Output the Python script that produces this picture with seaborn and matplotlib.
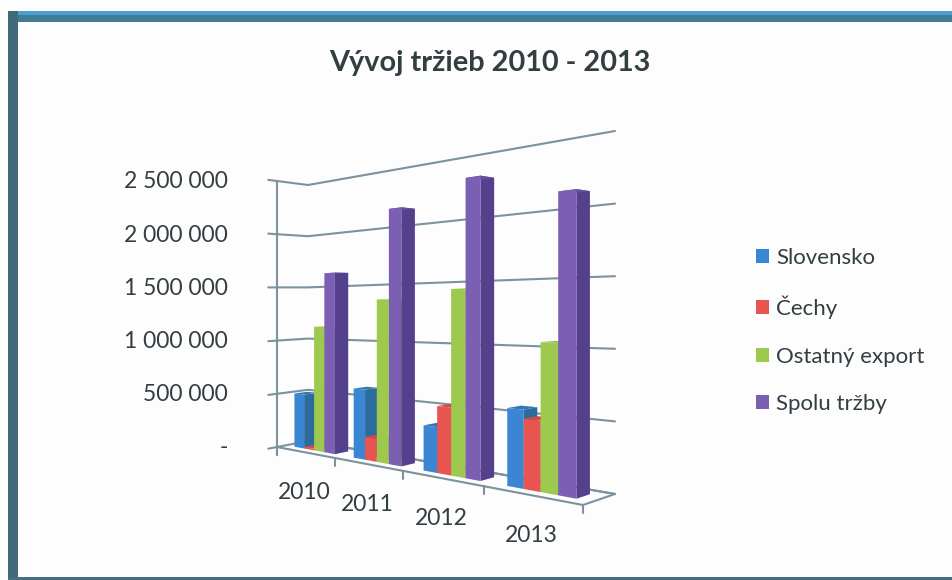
import numpy as np
import pandas as pd
import seaborn as sns
import matplotlib
matplotlib.use("Agg")
import matplotlib.pyplot as plt
from matplotlib.patches import Polygon, Rectangle
from matplotlib.lines import Line2D
from matplotlib.transforms import Transform, Affine2D

# ---- data ----
years = ["2010", "2011", "2012", "2013"]
slovensko = [500000, 600000, 360000, 565000]
cechy = [15000, 195000, 525000, 500000]
ostatny = [1130000, 1370000, 1440000, 1050000]
spolu = [1615000, 2120000, 2280000, 2090000]
series_names = ["Slovensko", "Čechy", "Ostatný export", "Spolu tržby"]
front_colors = ["#3a86d2", "#e8544f", "#9dc94f", "#7a5fb2"]
side_colors = ["#2b6c9c", "#c4433f", "#7ea63c", "#54408c"]
top_colors = ["#2f78b8", "#d24a45", "#8cb646", "#64509c"]
value_ticks = [0, 500000, 1000000, 1500000, 2000000, 2500000]
value_labels = ["-", "500 000", "1 000 000", "1 500 000", "2 000 000", "2 500 000"]
title_text = "Vývoj tržieb 2010 - 2013"

W, H = 953, 580
GRID = "#7c929d"
INK = "#333e41"
VMAX = value_ticks[-1]
U0, U1 = -0.5, len(years) - 0.5
BAR_D0, BAR_D1 = 0.3, 0.72


def homography(corners):
    """Plane (category, value) -> picture pixels, from four corner pixels."""
    src = [(U0, 0.0), (U1, 0.0), (U0, 1.0), (U1, 1.0)]
    A, b = [], []
    for (u, v), (x, y) in zip(src, corners):
        A.append([u, v, 1, 0, 0, 0, -u * x, -v * x])
        A.append([0, 0, 0, u, v, 1, -u * y, -v * y])
        b += [x, y]
    return np.append(np.linalg.solve(np.array(A), np.array(b)), 1.0).reshape(3, 3)


FRONT = homography([(277, 447), (583, 505), (277, 181), (583, 123)])
BACK = homography([(308, 441), (615, 494), (308, 185), (615, 131)])


def project(u, v, d):
    p = np.array([u, v / VMAX, 1.0])
    f = FRONT @ p
    b = BACK @ p
    return (1 - d) * f[:2] / f[2] + d * b[:2] / b[2]


class PlaneTransform(Transform):
    """Data (category, value) at a given plane depth -> display."""
    input_dims = 2
    output_dims = 2
    is_separable = False
    has_inverse = False

    def __init__(self, plane_depth):
        super().__init__()
        self.plane_depth = plane_depth

    def transform_non_affine(self, values):
        pts = np.array([project(a, b, self.plane_depth) for a, b in np.asarray(values)])
        pts[:, 1] = H - pts[:, 1]
        return pts


px = Affine2D().scale(1, -1).translate(0, H)

sns.set_theme(style="white")
plt.rcParams["font.family"] = ["Lato", "DejaVu Sans"]

fig = plt.figure(figsize=(W / 100, H / 100), dpi=100, facecolor="#fdfdfe")
ax = fig.add_axes([0, 0, 1, 1])

df = pd.DataFrame({
    "rok": years * 4,
    "serie": np.repeat(series_names, 4),
    "hodnota": slovensko + cechy + ostatny + spolu,
})
sns.barplot(data=df, x="rok", y="hodnota", hue="serie", order=years,
            hue_order=series_names, palette=front_colors, width=0.7,
            saturation=1, gap=0, errorbar=None, ax=ax, linewidth=0)
ax.set_xlim(U0, U1)
ax.set_ylim(0, VMAX)
ax.set_autoscale_on(False)

sns.move_legend(ax, "center left", bbox_to_anchor=(756 / W, 1 - 331 / H),
                frameon=False, title=None, fontsize=16, labelcolor=INK,
                handlelength=0.6, handleheight=0.6, handletextpad=0.32,
                labelspacing=1.24, borderpad=0, borderaxespad=0)
ax.axis("off")


def line(points, lw=1.5, color=GRID, z=2):
    pts = np.array(points)
    ax.add_line(Line2D(pts[:, 0], pts[:, 1], color=color, lw=lw, transform=px,
                       zorder=z, clip_on=False, solid_capstyle="round"))


# walls and floor
for v in value_ticks:
    line([project(U0, v, -0.28), project(U0, v, 1), project(U1, v, 1)])
line([project(U0, 0, 0), project(U1, 0, 0), project(U1, 0, 1)], z=3)
line([project(U1, 0, 1), project(U0, 0, 1)])
line([project(U0, VMAX, 0), project(U0, 0, 0) + [0, 8]], z=3)
for u in np.arange(U0, U1 + 0.5):
    a = project(u, 0, 0)
    line([a, a + [0, 8]], z=3)

# 3D sides for the bars seaborn has drawn
for i, container in enumerate(ax.containers):
    for j, bar in enumerate(container):
        x0, w, h = bar.get_x(), bar.get_width(), bar.get_height()
        x1 = x0 + w
        z = 10 + j * 10 + i * 2
        bar.set_transform(PlaneTransform(BAR_D0))
        bar.set_clip_on(False)
        bar.set_zorder(z + 1)
        bar.set_edgecolor("none")
        side = [project(x1, 0, BAR_D0), project(x1, h, BAR_D0),
                project(x1, h, BAR_D1), project(x1, 0, BAR_D1)]
        top = [project(x0, h, BAR_D0), project(x1, h, BAR_D0),
               project(x1, h, BAR_D1), project(x0, h, BAR_D1)]
        ax.add_patch(Polygon(side, closed=True, fc=side_colors[i], ec="none",
                             transform=px, zorder=z, clip_on=False))
        ax.add_patch(Polygon(top, closed=True, fc=top_colors[i], ec="none",
                             transform=px, zorder=z, clip_on=False))

# texts
for v, lab in zip(value_ticks, value_labels):
    y = project(U0, v, 0)[1] + 1
    ax.text(228, y, lab, transform=px, ha="right", va="center",
            fontsize=16.5, color=INK, clip_on=False)
for k, lab in enumerate(years):
    p = project(k, 0, 0) + [0, 40]
    ax.text(p[0], p[1], lab, transform=px, ha="center", va="center",
            fontsize=16.5, color=INK, clip_on=False)
ax.text(490, 63, title_text, transform=px, ha="center", va="center",
        fontsize=20.8, fontweight="bold", color=INK, clip_on=False)

# scanned slide frame
for (x, y, w, h, c) in [(8, 11, W - 8, 4, "#4a9fd0"), (8, 15, W - 8, 7, "#3f7c96"),
                        (8, 11, 10, H - 11, "#40697a"), (8, H - 3, W - 8, 3, "#46707f")]:
    ax.add_patch(Rectangle((x, y), w, h, fc=c, ec="none", transform=px,
                           zorder=1, clip_on=False))

fig.savefig("out.png", dpi=100, facecolor=fig.get_facecolor())
